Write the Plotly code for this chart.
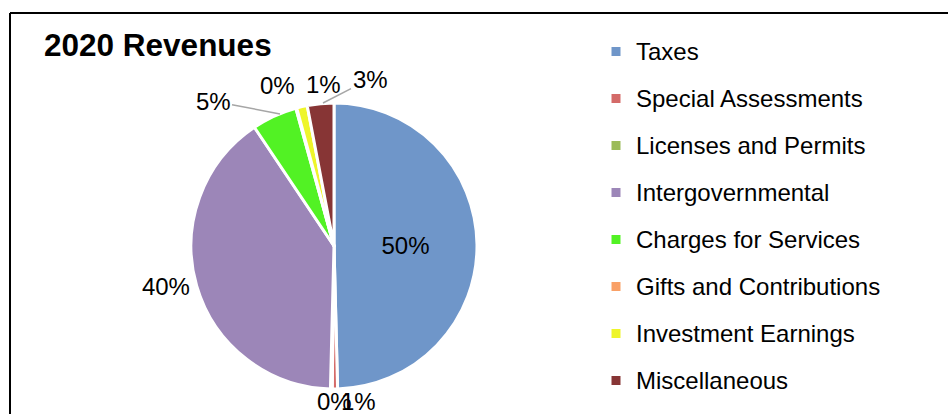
import plotly.graph_objects as go

categories = ["Taxes", "Special Assessments", "Licenses and Permits", "Intergovernmental",
              "Charges for Services", "Gifts and Contributions", "Investment Earnings", "Miscellaneous"]
values = [49.6, 0.6, 0.2, 40.2, 5.1, 0.1, 1.2, 3.0]
colors = ["#6f96c9", "#d46a68", "#9bbb59", "#9c86b8", "#52f224", "#f9a066", "#eef52a", "#873535"]
title_text = "2020 Revenues"

FONT = "Liberation Sans, Arial, sans-serif"
W, H = 948, 414
FS = 24

total = sum(values)
pct_text = ["%d%%" % round(v / total * 100) for v in values]

# Plotly draws the labels of the two big slices; the small ones are placed like the reference
text_pos = ["inside", "none", "none", "outside", "none", "none", "none", "none"]

# label placement for small slices (pixel layout): (tip_x, tip_y, text dx, text dy, leader line)
label_layout = {
    1: (358, 401, 0, 0, False),
    2: (334, 401, 0, 0, False),
    4: (280, 114, -67, -13, True),
    5: (277, 85, 0, 0, False),
    6: (323, 84, 0, 0, False),
    7: (323, 103, 47, -24, True),
}

legend_labels = ['<span style="font-size:%dpx;baseline-shift:5px">%s</span>' % (FS, c) for c in categories]

fig = go.Figure(go.Pie(
    labels=legend_labels,
    values=values,
    sort=False,
    direction="clockwise",
    rotation=0,
    marker=dict(colors=colors, line=dict(color="white", width=3)),
    texttemplate="%{percent:.0%}",
    textposition=text_pos,
    textfont=dict(family=FONT, size=FS, color="black"),
    insidetextfont=dict(family=FONT, size=FS, color="black"),
    outsidetextfont=dict(family=FONT, size=FS, color="black"),
    hoverinfo="label+percent",
    domain=dict(x=[191 / W, 477 / W], y=[1 - 389 / H, 1 - 103 / H]),
))

annotations = []
for i, (tx, ty, dx, dy, arrow) in label_layout.items():
    annotations.append(dict(
        text=pct_text[i], xref="paper", yref="paper", x=tx / W, y=1 - ty / H,
        showarrow=arrow, ax=dx, ay=dy, arrowhead=0, arrowwidth=1.5, arrowcolor="#a6a6a6",
        standoff=0, startstandoff=0,
        xanchor="center", yanchor="middle",
        font=dict(family=FONT, size=FS, color="black"),
    ))

fig.update_layout(
    width=W, height=H,
    margin=dict(l=0, r=0, t=0, b=0),
    paper_bgcolor="white",
    plot_bgcolor="white",
    font=dict(family=FONT, color="black"),
    title=dict(text="<b>%s</b>" % title_text, x=44 / W, xanchor="left", y=1 - 45 / H, yanchor="middle",
               font=dict(family=FONT, size=31.5, color="black")),
    legend=dict(x=596 / W, xanchor="left", y=1 - 23 / H, yanchor="top",
                font=dict(family=FONT, size=33.85, color="black"),
                bgcolor="rgba(0,0,0,0)"),
    annotations=annotations,
    shapes=[
        dict(type="line", xref="paper", yref="paper", x0=10 / W, x1=1.01, y0=1 - 13 / H, y1=1 - 13 / H,
             line=dict(color="black", width=2)),
        dict(type="line", xref="paper", yref="paper", x0=10 / W, x1=10 / W, y0=1 - 13 / H, y1=-0.01,
             line=dict(color="black", width=2)),
    ],
)

fig.write_html("out.html", config={"displayModeBar": False},
               post_script="document.body.style.margin='0';")
